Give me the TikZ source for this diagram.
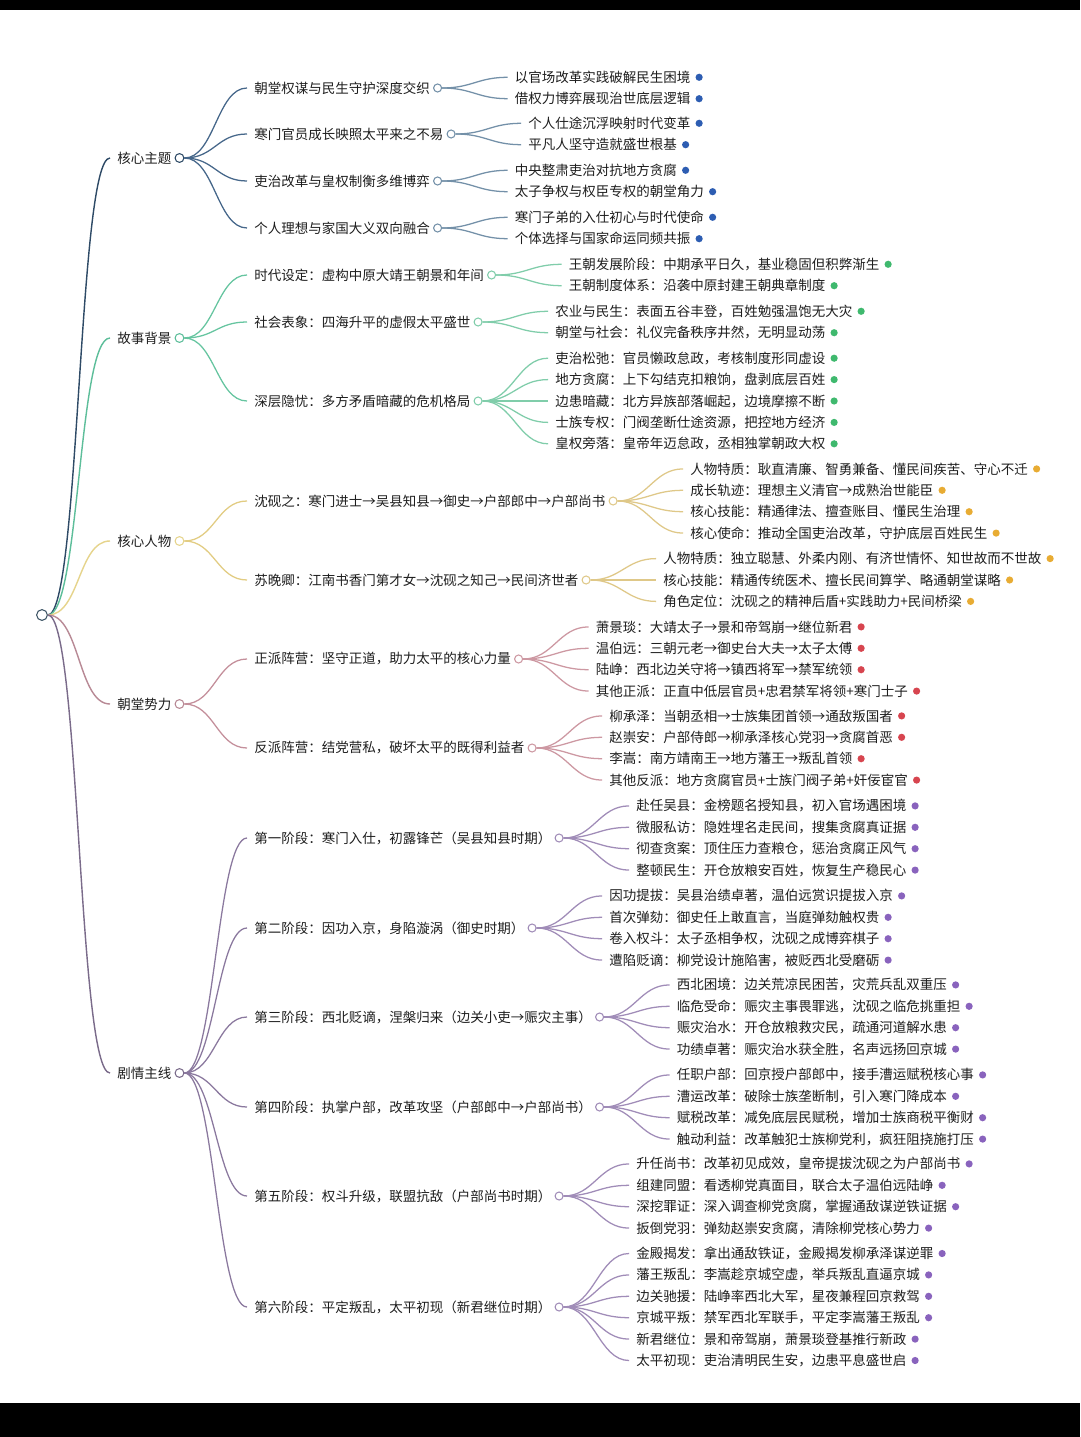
\documentclass[tikz,border=0pt]{standalone}
\usepackage{fontspec}
\setmainfont{Noto Sans CJK SC}
\usetikzlibrary{positioning,calc}
\definecolor{ink}{HTML}{1E1E1E}
\definecolor{rootc}{HTML}{3E5566}
\definecolor{themeM}{HTML}{2E4A66}
\definecolor{themeS}{HTML}{46678A}
\definecolor{themeL}{HTML}{7390A8}
\definecolor{themeD}{HTML}{2D5DB2}
\definecolor{backM}{HTML}{5DBE9A}
\definecolor{backS}{HTML}{66C5A0}
\definecolor{backL}{HTML}{80CDAA}
\definecolor{backD}{HTML}{3FB96E}
\definecolor{roleM}{HTML}{E6D48C}
\definecolor{roleS}{HTML}{E2CC82}
\definecolor{roleL}{HTML}{DFC888}
\definecolor{roleD}{HTML}{E8AC33}
\definecolor{courtM}{HTML}{B88995}
\definecolor{courtS}{HTML}{C48F9B}
\definecolor{courtL}{HTML}{CD98A2}
\definecolor{courtD}{HTML}{D7454F}
\definecolor{plotM}{HTML}{7A6B8A}
\definecolor{plotS}{HTML}{8A789E}
\definecolor{plotL}{HTML}{A08CB8}
\definecolor{plotD}{HTML}{8963BD}

\begin{document}
\begin{tikzpicture}[x=0.025cm, y=-0.025cm,
    txt/.style={anchor=west, inner xsep=0.075cm, inner ysep=1pt, font=\fontsize{9.6}{11}\selectfont, text=ink},
    knob/.style={circle, draw=#1, fill=white, line width=0.75pt, minimum size=0.2cm, inner sep=0pt},
    bullet/.style={circle, fill=#1, minimum size=0.18cm, inner sep=0pt},
    branch/.style={draw=#1, line width=0.9pt}
]
\useasboundingbox (0,0) rectangle (1080,1437);
\fill[white] (0,0) rectangle (1080,1437);
\fill[black] (0,0) rectangle (1080,10);
\fill[black] (0,1403) rectangle (1080,1437);

\node[knob=rootc, minimum size=0.27cm] (r) at (42,615) {};

% level 1
\node[txt] (t1) at (114,158) {核心主题};
\node[txt] (t2) at (114,338) {故事背景};
\node[txt] (t3) at (114,541) {核心人物};
\node[txt] (t4) at (114,704) {朝堂势力};
\node[txt] (t5) at (114,1073) {剧情主线};
\node[knob=themeM, minimum size=0.22cm, right=0pt of t1] (kt1) {};
\node[knob=backM, minimum size=0.22cm, right=0pt of t2] (kt2) {};
\node[knob=roleM, minimum size=0.22cm, right=0pt of t3] (kt3) {};
\node[knob=courtM, minimum size=0.22cm, right=0pt of t4] (kt4) {};
\node[knob=plotM, minimum size=0.22cm, right=0pt of t5] (kt5) {};

% level 2
\node[txt] (m11) at (251,88) {朝堂权谋与民生守护深度交织};
\node[txt] (m12) at (251,134) {寒门官员成长映照太平来之不易};
\node[txt] (m13) at (251,181) {吏治改革与皇权制衡多维博弈};
\node[txt] (m14) at (251,228) {个人理想与家国大义双向融合};
\node[txt] (m21) at (251,275) {时代设定：虚构中原大靖王朝景和年间};
\node[txt] (m22) at (251,322) {社会表象：四海升平的虚假太平盛世};
\node[txt] (m23) at (251,401) {深层隐忧：多方矛盾暗藏的危机格局};
\node[txt] (m31) at (251,501) {沈砚之：寒门进士→吴县知县→御史→户部郎中→户部尚书};
\node[txt] (m32) at (251,580) {苏晚卿：江南书香门第才女→沈砚之知己→民间济世者};
\node[txt] (m41) at (251,659) {正派阵营：坚守正道，助力太平的核心力量};
\node[txt] (m42) at (251,748) {反派阵营：结党营私，破坏太平的既得利益者};
\node[txt] (m51) at (251,838) {第一阶段：寒门入仕，初露锋芒（吴县知县时期）};
\node[txt] (m52) at (251,928) {第二阶段：因功入京，身陷漩涡（御史时期）};
\node[txt] (m53) at (251,1017) {第三阶段：西北贬谪，涅槃归来（边关小吏→赈灾主事）};
\node[txt] (m54) at (251,1107) {第四阶段：执掌户部，改革攻坚（户部郎中→户部尚书）};
\node[txt] (m55) at (251,1196) {第五阶段：权斗升级，联盟抗敌（户部尚书时期）};
\node[txt] (m56) at (251,1307) {第六阶段：平定叛乱，太平初现（新君继位时期）};
\foreach \m in {m11,m12,m13,m14} \node[knob=themeL, right=0pt of \m] (k\m) {};
\foreach \m in {m21,m22,m23} \node[knob=backL, right=0pt of \m] (k\m) {};
\foreach \m in {m31,m32} \node[knob=roleL, right=0pt of \m] (k\m) {};
\foreach \m in {m41,m42} \node[knob=courtL, right=0pt of \m] (k\m) {};
\foreach \m in {m51,m52,m53,m54,m55,m56} \node[knob=plotL, right=0pt of \m] (k\m) {};

% level 3
\node[txt] (m11-1) at ($(km11)+(74,-10.7)$) {以官场改革实践破解民生困境};
\node[txt] (m11-2) at ($(km11)+(74,10.7)$) {借权力博弈展现治世底层逻辑};
\node[txt] (m12-1) at ($(km12)+(74,-10.7)$) {个人仕途沉浮映射时代变革};
\node[txt] (m12-2) at ($(km12)+(74,10.7)$) {平凡人坚守造就盛世根基};
\node[txt] (m13-1) at ($(km13)+(74,-10.7)$) {中央整肃吏治对抗地方贪腐};
\node[txt] (m13-2) at ($(km13)+(74,10.7)$) {太子争权与权臣专权的朝堂角力};
\node[txt] (m14-1) at ($(km14)+(74,-10.7)$) {寒门子弟的入仕初心与时代使命};
\node[txt] (m14-2) at ($(km14)+(74,10.7)$) {个体选择与国家命运同频共振};

\node[txt] (m21-1) at ($(km21)+(74,-10.7)$) {王朝发展阶段：中期承平日久，基业稳固但积弊渐生};
\node[txt] (m21-2) at ($(km21)+(74,10.7)$) {王朝制度体系：沿袭中原封建王朝典章制度};
\node[txt] (m22-1) at ($(km22)+(74,-10.7)$) {农业与民生：表面五谷丰登，百姓勉强温饱无大灾};
\node[txt] (m22-2) at ($(km22)+(74,10.7)$) {朝堂与社会：礼仪完备秩序井然，无明显动荡};
\node[txt] (m23-1) at ($(km23)+(74,-42.8)$) {吏治松弛：官员懒政怠政，考核制度形同虚设};
\node[txt] (m23-2) at ($(km23)+(74,-21.4)$) {地方贪腐：上下勾结克扣粮饷，盘剥底层百姓};
\node[txt] (m23-3) at ($(km23)+(74,0)$) {边患暗藏：北方异族部落崛起，边境摩擦不断};
\node[txt] (m23-4) at ($(km23)+(74,21.4)$) {士族专权：门阀垄断仕途资源，把控地方经济};
\node[txt] (m23-5) at ($(km23)+(74,42.8)$) {皇权旁落：皇帝年迈怠政，丞相独掌朝政大权};

\node[txt] (m31-1) at ($(km31)+(74,-32.1)$) {人物特质：耿直清廉、智勇兼备、懂民间疾苦、守心不迁};
\node[txt] (m31-2) at ($(km31)+(74,-10.7)$) {成长轨迹：理想主义清官→成熟治世能臣};
\node[txt] (m31-3) at ($(km31)+(74,10.7)$) {核心技能：精通律法、擅查账目、懂民生治理};
\node[txt] (m31-4) at ($(km31)+(74,32.1)$) {核心使命：推动全国吏治改革，守护底层百姓民生};
\node[txt] (m32-1) at ($(km32)+(74,-21.4)$) {人物特质：独立聪慧、外柔内刚、有济世情怀、知世故而不世故};
\node[txt] (m32-2) at ($(km32)+(74,0)$) {核心技能：精通传统医术、擅长民间算学、略通朝堂谋略};
\node[txt] (m32-3) at ($(km32)+(74,21.4)$) {角色定位：沈砚之的精神后盾+实践助力+民间桥梁};

\node[txt] (m41-1) at ($(km41)+(74,-32.1)$) {萧景琰：大靖太子→景和帝驾崩→继位新君};
\node[txt] (m41-2) at ($(km41)+(74,-10.7)$) {温伯远：三朝元老→御史台大夫→太子太傅};
\node[txt] (m41-3) at ($(km41)+(74,10.7)$) {陆峥：西北边关守将→镇西将军→禁军统领};
\node[txt] (m41-4) at ($(km41)+(74,32.1)$) {其他正派：正直中低层官员+忠君禁军将领+寒门士子};
\node[txt] (m42-1) at ($(km42)+(74,-32.1)$) {柳承泽：当朝丞相→士族集团首领→通敌叛国者};
\node[txt] (m42-2) at ($(km42)+(74,-10.7)$) {赵崇安：户部侍郎→柳承泽核心党羽→贪腐首恶};
\node[txt] (m42-3) at ($(km42)+(74,10.7)$) {李嵩：南方靖南王→地方藩王→叛乱首领};
\node[txt] (m42-4) at ($(km42)+(74,32.1)$) {其他反派：地方贪腐官员+士族门阀子弟+奸佞宦官};

\node[txt] (m51-1) at ($(km51)+(74,-32.1)$) {赴任吴县：金榜题名授知县，初入官场遇困境};
\node[txt] (m51-2) at ($(km51)+(74,-10.7)$) {微服私访：隐姓埋名走民间，搜集贪腐真证据};
\node[txt] (m51-3) at ($(km51)+(74,10.7)$) {彻查贪案：顶住压力查粮仓，惩治贪腐正风气};
\node[txt] (m51-4) at ($(km51)+(74,32.1)$) {整顿民生：开仓放粮安百姓，恢复生产稳民心};
\node[txt] (m52-1) at ($(km52)+(74,-32.1)$) {因功提拔：吴县治绩卓著，温伯远赏识提拔入京};
\node[txt] (m52-2) at ($(km52)+(74,-10.7)$) {首次弹劾：御史任上敢直言，当庭弹劾触权贵};
\node[txt] (m52-3) at ($(km52)+(74,10.7)$) {卷入权斗：太子丞相争权，沈砚之成博弈棋子};
\node[txt] (m52-4) at ($(km52)+(74,32.1)$) {遭陷贬谪：柳党设计施陷害，被贬西北受磨砺};
\node[txt] (m53-1) at ($(km53)+(74,-32.1)$) {西北困境：边关荒凉民困苦，灾荒兵乱双重压};
\node[txt] (m53-2) at ($(km53)+(74,-10.7)$) {临危受命：赈灾主事畏罪逃，沈砚之临危挑重担};
\node[txt] (m53-3) at ($(km53)+(74,10.7)$) {赈灾治水：开仓放粮救灾民，疏通河道解水患};
\node[txt] (m53-4) at ($(km53)+(74,32.1)$) {功绩卓著：赈灾治水获全胜，名声远扬回京城};
\node[txt] (m54-1) at ($(km54)+(74,-32.1)$) {任职户部：回京授户部郎中，接手漕运赋税核心事};
\node[txt] (m54-2) at ($(km54)+(74,-10.7)$) {漕运改革：破除士族垄断制，引入寒门降成本};
\node[txt] (m54-3) at ($(km54)+(74,10.7)$) {赋税改革：减免底层民赋税，增加士族商税平衡财};
\node[txt] (m54-4) at ($(km54)+(74,32.1)$) {触动利益：改革触犯士族柳党利，疯狂阻挠施打压};
\node[txt] (m55-1) at ($(km55)+(74,-32.1)$) {升任尚书：改革初见成效，皇帝提拔沈砚之为户部尚书};
\node[txt] (m55-2) at ($(km55)+(74,-10.7)$) {组建同盟：看透柳党真面目，联合太子温伯远陆峥};
\node[txt] (m55-3) at ($(km55)+(74,10.7)$) {深挖罪证：深入调查柳党贪腐，掌握通敌谋逆铁证据};
\node[txt] (m55-4) at ($(km55)+(74,32.1)$) {扳倒党羽：弹劾赵崇安贪腐，清除柳党核心势力};
\node[txt] (m56-1) at ($(km56)+(74,-53.5)$) {金殿揭发：拿出通敌铁证，金殿揭发柳承泽谋逆罪};
\node[txt] (m56-2) at ($(km56)+(74,-32.1)$) {藩王叛乱：李嵩趁京城空虚，举兵叛乱直逼京城};
\node[txt] (m56-3) at ($(km56)+(74,-10.7)$) {边关驰援：陆峥率西北大军，星夜兼程回京救驾};
\node[txt] (m56-4) at ($(km56)+(74,10.7)$) {京城平叛：禁军西北军联手，平定李嵩藩王叛乱};
\node[txt] (m56-5) at ($(km56)+(74,32.1)$) {新君继位：景和帝驾崩，萧景琰登基推行新政};
\node[txt] (m56-6) at ($(km56)+(74,53.5)$) {太平初现：吏治清明民生安，边患平息盛世启};

% connectors
\draw[branch=themeM, line width=1pt] (r.east) .. controls +(32,0) and +(-32,0) .. ([xshift=-0.1cm]t1.west);
\draw[branch=backM, line width=1pt] (r.east) .. controls +(32,0) and +(-32,0) .. ([xshift=-0.1cm]t2.west);
\draw[branch=roleM, line width=1pt] (r.east) .. controls +(32,0) and +(-32,0) .. ([xshift=-0.1cm]t3.west);
\draw[branch=courtM, line width=1pt] (r.east) .. controls +(32,0) and +(-32,0) .. ([xshift=-0.1cm]t4.west);
\draw[branch=plotM, line width=1pt] (r.east) .. controls +(32,0) and +(-32,0) .. ([xshift=-0.1cm]t5.west);

\foreach \m in {m11,m12,m13,m14}
  \draw[branch=themeS] (kt1.east) .. controls +(30,0) and +(-30,0) .. ([xshift=-0.1cm]\m.west);
\foreach \m in {m21,m22,m23}
  \draw[branch=backS] (kt2.east) .. controls +(30,0) and +(-30,0) .. ([xshift=-0.1cm]\m.west);
\foreach \m in {m31,m32}
  \draw[branch=roleS] (kt3.east) .. controls +(30,0) and +(-30,0) .. ([xshift=-0.1cm]\m.west);
\foreach \m in {m41,m42}
  \draw[branch=courtS] (kt4.east) .. controls +(30,0) and +(-30,0) .. ([xshift=-0.1cm]\m.west);
\foreach \m in {m51,m52,m53,m54,m55,m56}
  \draw[branch=plotS] (kt5.east) .. controls +(30,0) and +(-30,0) .. ([xshift=-0.1cm]\m.west);

\foreach \m/\k in {m11/2,m12/2,m13/2,m14/2}
  \foreach \n in {1,...,\k}{
    \draw[branch=themeL] (k\m.east) .. controls +(30,0) and +(-30,0) .. ([xshift=-0.1cm]\m-\n.west);
    \node[bullet=themeD, right=0.04cm of \m-\n] (d\m-\n) {};
  }
\foreach \m/\k in {m21/2,m22/2,m23/5}
  \foreach \n in {1,...,\k}{
    \draw[branch=backL] (k\m.east) .. controls +(30,0) and +(-30,0) .. ([xshift=-0.1cm]\m-\n.west);
    \node[bullet=backD, right=0.04cm of \m-\n] (d\m-\n) {};
  }
\foreach \m/\k in {m31/4,m32/3}
  \foreach \n in {1,...,\k}{
    \draw[branch=roleL] (k\m.east) .. controls +(30,0) and +(-30,0) .. ([xshift=-0.1cm]\m-\n.west);
    \node[bullet=roleD, right=0.04cm of \m-\n] (d\m-\n) {};
  }
\foreach \m/\k in {m41/4,m42/4}
  \foreach \n in {1,...,\k}{
    \draw[branch=courtL] (k\m.east) .. controls +(30,0) and +(-30,0) .. ([xshift=-0.1cm]\m-\n.west);
    \node[bullet=courtD, right=0.04cm of \m-\n] (d\m-\n) {};
  }
\foreach \m/\k in {m51/4,m52/4,m53/4,m54/4,m55/4,m56/6}
  \foreach \n in {1,...,\k}{
    \draw[branch=plotL] (k\m.east) .. controls +(30,0) and +(-30,0) .. ([xshift=-0.1cm]\m-\n.west);
    \node[bullet=plotD, right=0.04cm of \m-\n] (d\m-\n) {};
  }
\end{tikzpicture}
\end{document}
